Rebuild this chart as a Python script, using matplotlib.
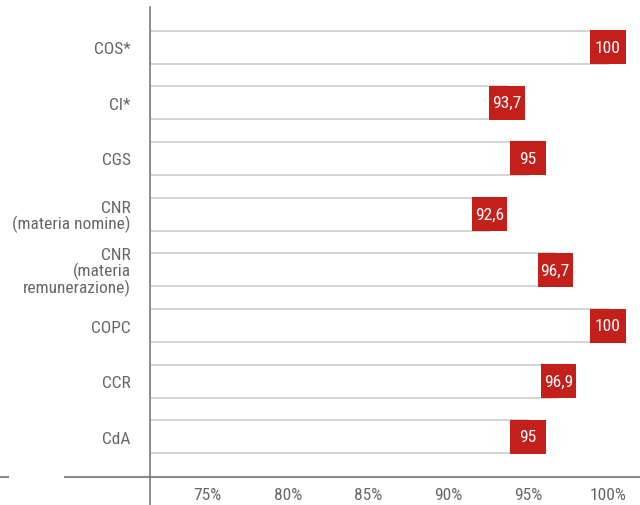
import matplotlib
matplotlib.use("Agg")
import matplotlib.pyplot as plt
from matplotlib import font_manager
from matplotlib.lines import Line2D
from matplotlib.patches import Rectangle

categories = ["COS*", "CI*", "CGS", "CNR\n(materia nomine)",
              "CNR\n(materia\nremunerazione)", "COPC", "CCR", "CdA"]
values = [100, 93.7, 95, 92.6, 96.7, 100, 96.9, 95]
value_labels = ["100", "93,7", "95", "92,6", "96,7", "100", "96,9", "95"]
xticks = [75, 80, 85, 90, 95, 100]
xtick_labels = ["75%", "80%", "85%", "90%", "95%", "100%"]

# a narrow face is closer to the original; use one if it happens to be there
installed = {f.name for f in font_manager.fontManager.ttflist}
narrow = [n for n in ["Roboto Condensed", "Liberation Sans Narrow", "DejaVu Sans Condensed"]
          if n in installed]
if narrow:
    plt.rcParams['font.family'] = [narrow[0], 'DejaVu Sans']
    fs = 12.5
else:
    plt.rcParams['font.family'] = ['Roboto', 'DejaVu Sans']
    fs = 11

fig = plt.figure(figsize=(6.4, 5.06), dpi=100)
ax = fig.add_axes([150 / 640, 28 / 506, 490 / 640, 470 / 506])

x0, x1 = 71.4, 102.0
ax.set_xlim(x0, x1)
ax.set_ylim(7.72, -0.72)

red = "#c4201b"
box_w = 2.2
box_h = 0.61
bar_h = 0.59

for i, (v, lab) in enumerate(zip(values, value_labels)):
    ax.barh(i, v - x0, left=x0, height=bar_h, color="white",
            edgecolor="#cccccc", linewidth=1.2, zorder=2)
    ax.add_patch(Rectangle((v - box_w / 2, i - box_h / 2), box_w, box_h,
                           facecolor=red, edgecolor="none", zorder=3,
                           clip_on=False))
    ax.text(v, i, lab, color="white", ha="center", va="center",
            fontsize=fs, zorder=4, clip_on=False)

ax.set_yticks(range(len(categories)))
ax.set_yticklabels(categories, fontsize=fs, color="#666666", linespacing=0.95)
ax.set_xticks(xticks)
ax.set_xticklabels(xtick_labels, fontsize=fs, color="#666666")
ax.tick_params(axis="both", length=0)
ax.tick_params(axis="y", pad=14)
ax.tick_params(axis="x", pad=7)

for s in ax.spines.values():
    s.set_visible(False)

# axis lines drawn in figure pixels, they run past the plot area
def fx(px):
    return px / 640

def fy(py):
    return 1 - py / 506

fig.add_artist(Line2D([fx(65), fx(640)], [fy(478), fy(478)], color="#8a8a8a", lw=1.5))
fig.add_artist(Line2D([fx(0), fx(8)], [fy(478), fy(478)], color="#8a8a8a", lw=1.5))
fig.add_artist(Line2D([fx(150), fx(150)], [fy(8), fy(506)], color="#7a7a7a", lw=1.2))

fig.savefig("out.png", dpi=100)
